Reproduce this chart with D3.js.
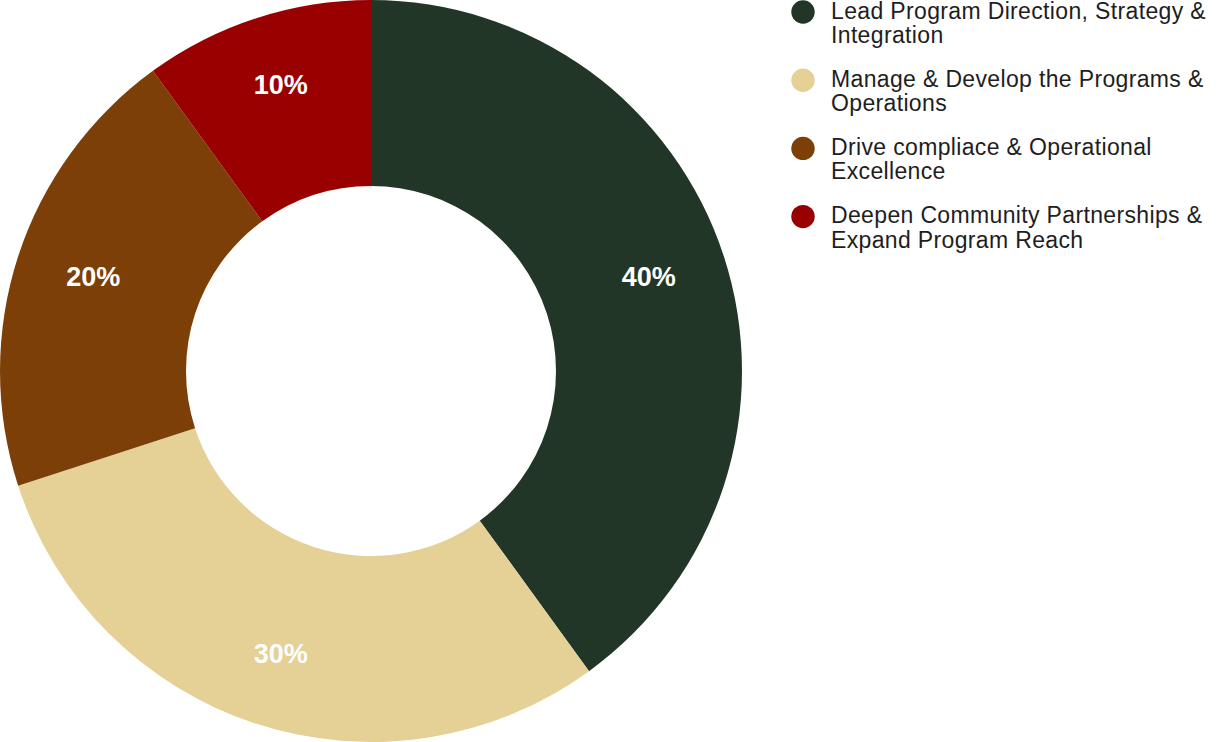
<!DOCTYPE html>
<html>
<head>
<meta charset="utf-8">
<script src="https://cdn.jsdelivr.net/npm/d3@7"></script>
<style>
  html, body { margin: 0; padding: 0; background: #fff; }
  svg { display: block; }
</style>
</head>
<body>
<svg id="chart" width="1222" height="742"></svg>
<script>
// --- Data
const categories = [
    ["Lead Program Direction, Strategy &", "Integration"],
    ["Manage & Develop the Programs &", "Operations"],
    ["Drive compliace & Operational", "Excellence"],
    ["Deepen Community Partnerships &", "Expand Program Reach"]
]
const shares = [40, 30, 20, 10]
const colors = ["#223628", "#E5D096", "#7B3F07", "#990100"]

const svg = d3.select("#chart")
const cx = 371, cy = 371
const outerR = 371, innerR = 185
// label ring is a little squashed sideways in the original
const labelRx = 292, labelRy = 299

const pie = d3.pie().sort(null).value(d => d)
const arcs = pie(shares)

const arc = d3.arc().innerRadius(innerR).outerRadius(outerR)

const g = svg.append("g").attr("transform", `translate(${cx},${cy})`)

g.selectAll("path.slice")
    .data(arcs)
    .join("path")
    .attr("class", "slice")
    .attr("d", arc)
    .attr("fill", (d, i) => colors[i])

function labelPos(d) {
    const a = (d.startAngle + d.endAngle) / 2
    return [Math.sin(a) * labelRx, -Math.cos(a) * labelRy - 1.5]
}

g.selectAll("text.pct")
    .data(arcs)
    .join("text")
    .attr("class", "pct")
    .attr("transform", d => `translate(${labelPos(d)})`)
    .attr("text-anchor", "middle")
    .attr("dominant-baseline", "central")
    .attr("font-family", "'Liberation Sans', Arial, sans-serif")
    .attr("font-weight", "bold")
    .attr("font-size", 27)
    .attr("fill", "#fff")
    .text(d => d.data + "%")

// --- Legend
const legend = svg.append("g").attr("transform", "translate(803,12)")
const rows = legend.selectAll("g.row")
    .data(categories)
    .join("g")
    .attr("class", "row")
    .attr("transform", (d, i) => `translate(0,${i * 68.2})`)

rows.append("circle")
    .attr("r", 11.7)
    .attr("fill", (d, i) => colors[i])

rows.append("text")
    .attr("font-family", "'Liberation Sans', Arial, sans-serif")
    .attr("font-size", 23)
    .attr("letter-spacing", 0.35)
    .attr("fill", "#1e1e1e")
    .selectAll("tspan")
    .data(d => d)
    .join("tspan")
    .attr("x", 28)
    .attr("y", (d, i) => 6.6 + i * 24.5)
    .text(d => d)
</script>
</body>
</html>
